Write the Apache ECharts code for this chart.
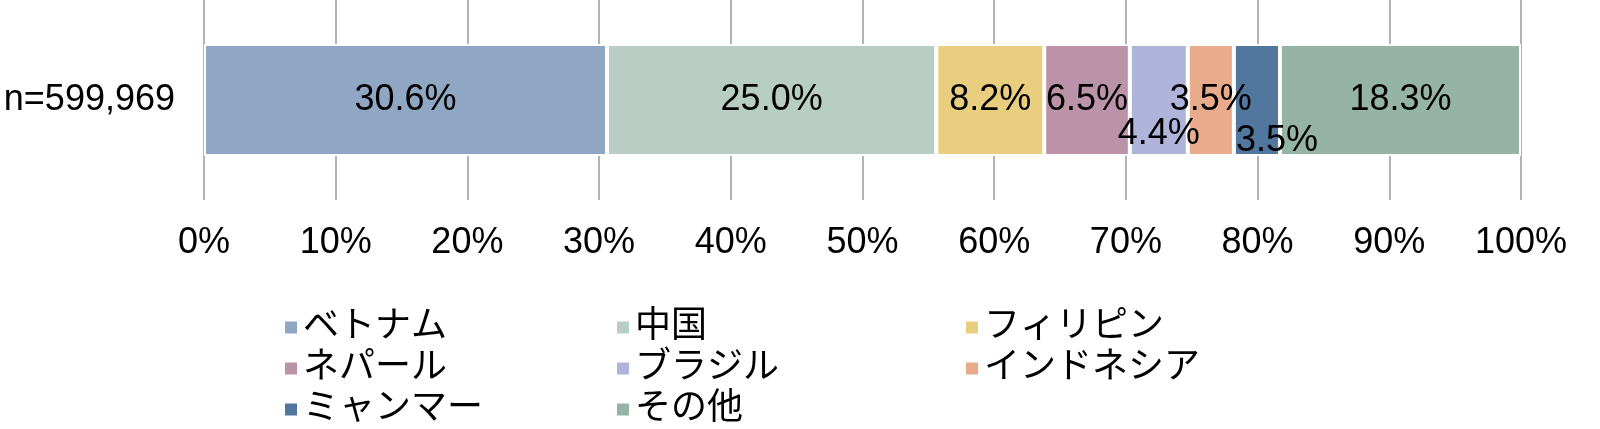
<!DOCTYPE html>
<html>
<head>
<meta charset="utf-8">
<script src="https://cdn.jsdelivr.net/npm/echarts@6/dist/echarts.min.js"></script>
<style>
  html, body { margin: 0; padding: 0; background: #fff; }
  #charts { width: 1600px; height: 429px; }
</style>
</head>
<body>
<div id="charts"></div>
<script>
// データ
const categories = ['n=599,969'];
const seriesNames = ['ベトナム', '中国', 'フィリピン', 'ネパール', 'ブラジル', 'インドネシア', 'ミャンマー', 'その他'];
const shares = [30.6, 25.0, 8.2, 6.5, 4.4, 3.5, 3.5, 18.3];
const xTicks = [0, 10, 20, 30, 40, 50, 60, 70, 80, 90, 100];

const colors = ['#8FA7C3', '#B8CDC4', '#E9CE7F', '#BA93A8', '#B0B3DA', '#E8AC8C', '#52779E', '#96B4A6'];
// 手動でずらしたラベル
const labelOffsets = { 'ブラジル': [0, 34], 'ミャンマー': [20, 41] };

const FONT = "'Liberation Sans', Arial, 'Noto Sans CJK JP', sans-serif";

let myChart = echarts.init(document.getElementById('charts'));

let series = seriesNames.map(function (name, i) {
    return {
        name: name,
        type: 'bar',
        stack: 'total',
        barWidth: 112,
        itemStyle: { color: colors[i], borderColor: '#fff', borderWidth: 2 },
        label: {
            show: true,
            position: 'inside',
            offset: labelOffsets[name] || [0, 0],
            color: '#000',
            fontSize: 36,
            fontFamily: FONT,
            formatter: function (p) { return p.value.toFixed(1) + '%'; }
        },
        emphasis: { disabled: true },
        data: [shares[i]]
    };
});

// 凡例は3列
const legendCols = [
    { left: 283, data: [seriesNames[0], seriesNames[3], seriesNames[6]] },
    { left: 615, data: [seriesNames[1], seriesNames[4], seriesNames[7]] },
    { left: 964, data: [seriesNames[2], seriesNames[5]] }
];

myChart.setOption({
    animation: false,
    textStyle: { fontFamily: FONT },
    grid: { left: 204, right: 79, top: 0, bottom: 229, containLabel: false },
    legend: legendCols.map(function (c) {
        return {
            orient: 'vertical',
            left: c.left,
            top: 309,
            height: 125,
            padding: 0,
            itemWidth: 14,
            itemHeight: 14,
            itemGap: 4,
            icon: 'rect',
            selectedMode: false,
            textStyle: { fontSize: 36, lineHeight: 37, color: '#000', fontFamily: FONT },
            data: c.data
        };
    }),
    xAxis: {
        type: 'value',
        min: xTicks[0],
        max: xTicks[xTicks.length - 1],
        interval: 10,
        axisLine: { show: false },
        axisTick: { show: false },
        splitLine: { show: true, lineStyle: { color: '#9a9a9a', width: 1.5 } },
        axisLabel: {
            margin: 25,
            color: '#000',
            fontSize: 36,
            fontFamily: FONT,
            formatter: function (v) { return xTicks.indexOf(v) >= 0 ? v + '%' : ''; }
        }
    },
    yAxis: {
        type: 'category',
        data: categories,
        axisLine: { show: false },
        axisTick: { show: false },
        axisLabel: { margin: 29, color: '#000', fontSize: 36, fontFamily: FONT }
    },
    series: series
});
</script>
</body>
</html>
